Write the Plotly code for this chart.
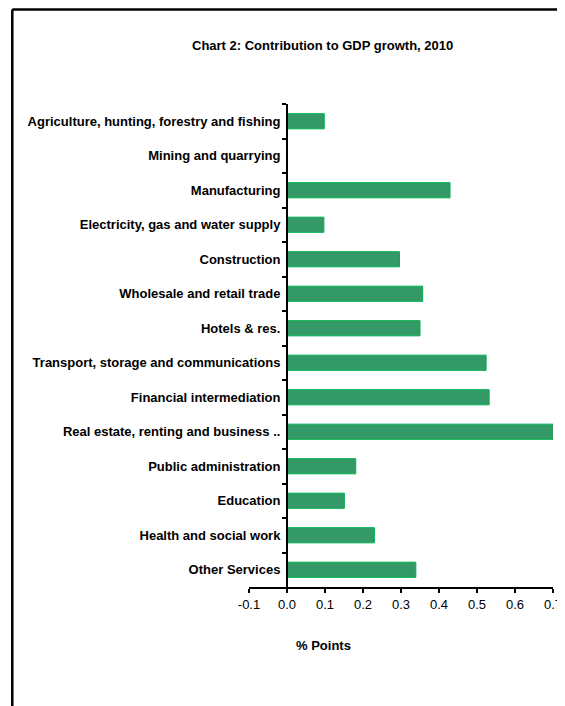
import plotly.graph_objects as go

categories = [
    "Agriculture, hunting, forestry and fishing",
    "Mining and quarrying",
    "Manufacturing",
    "Electricity, gas and water supply",
    "Construction",
    "Wholesale and retail trade",
    "Hotels & res.",
    "Transport, storage and communications",
    "Financial intermediation",
    "Real estate, renting and business ..",
    "Public administration",
    "Education",
    "Health and social work",
    "Other Services",
]
values = [0.098, 0.0, 0.429, 0.097, 0.296, 0.357, 0.350, 0.524, 0.532, 0.705,
          0.181, 0.151, 0.230, 0.339]
x_ticks = [-0.1, 0.0, 0.1, 0.2, 0.3, 0.4, 0.5, 0.6, 0.7]
x_tick_labels = ["-0.1", "0.0", "0.1", "0.2", "0.3", "0.4", "0.5", "0.6", "0.7"]
title_text = "Chart 2: Contribution to GDP growth, 2010"
x_title = "% Points"

FONT = "Liberation Sans Narrow, Arial Narrow, Liberation Sans, Arial, sans-serif"
OFF = 8  # default page body margin
W, H = 565 - OFF, 706 - OFF
# plot area in window pixels: x 249..553, y 104..587
L = 249 - OFF
R = W - (553 - OFF)
T = 104 - OFF
B = H - (587 - OFF)
x_range = [x_ticks[0], x_ticks[-1]]
zero_pos = (0 - x_range[0]) / (x_range[1] - x_range[0])

fig = go.Figure(go.Bar(
    x=values, y=categories, orientation="h",
    marker=dict(color="#339966", line=dict(color="#00B050", width=1)),
    width=0.44,
))

pw = W - L - R
ph = H - T - B


def px_x(x):
    return (x - OFF - L) / pw


def px_y(y):
    return (H - B - (y - OFF)) / ph


frame_x = px_x(12.3)
frame_y = px_y(9.5)

fig.update_layout(
    width=W, height=H,
    margin=dict(l=L, r=R, t=T, b=B, autoexpand=False),
    paper_bgcolor="white", plot_bgcolor="white",
    showlegend=False,
    font=dict(family=FONT, color="black", size=12),
    xaxis=dict(
        range=x_range, tickvals=x_ticks, ticktext=x_tick_labels,
        showgrid=False, zeroline=False,
        showline=True, linecolor="black", linewidth=2,
        ticks="outside", ticklen=4, tickwidth=1.5, tickcolor="black",
        tickfont=dict(family=FONT, size=13, color="black"),
        automargin=False,
    ),
    yaxis=dict(
        autorange="reversed", anchor="free", position=zero_pos,
        showgrid=False, zeroline=False,
        showline=True, linecolor="black", linewidth=2,
        ticks="outside", tickson="boundaries", ticklen=4, tickwidth=1.5,
        tickcolor="black",
        tickfont=dict(family=FONT, size=13, color="black", weight="bold"),
        ticklabelstandoff=3,
        automargin=False,
    ),
    annotations=[
        dict(text="<b>" + title_text + "</b>", xref="paper", yref="paper",
             x=px_x(322), y=px_y(45), xanchor="center", yanchor="middle",
             showarrow=False, font=dict(family=FONT, size=13, color="black")),
        dict(text="<b>" + x_title + "</b>", xref="paper", yref="paper",
             x=px_x(323), y=px_y(645), xanchor="center", yanchor="middle",
             showarrow=False, font=dict(family=FONT, size=13, color="black")),
    ],
    shapes=[
        dict(type="line", xref="paper", yref="paper", x0=frame_x, x1=frame_x,
             y0=-0.5, y1=frame_y, line=dict(color="black", width=2.5)),
        dict(type="line", xref="paper", yref="paper", x0=frame_x, x1=1.2,
             y0=frame_y, y1=frame_y, line=dict(color="black", width=2.5)),
    ],
)

fig.write_html("out.html")
